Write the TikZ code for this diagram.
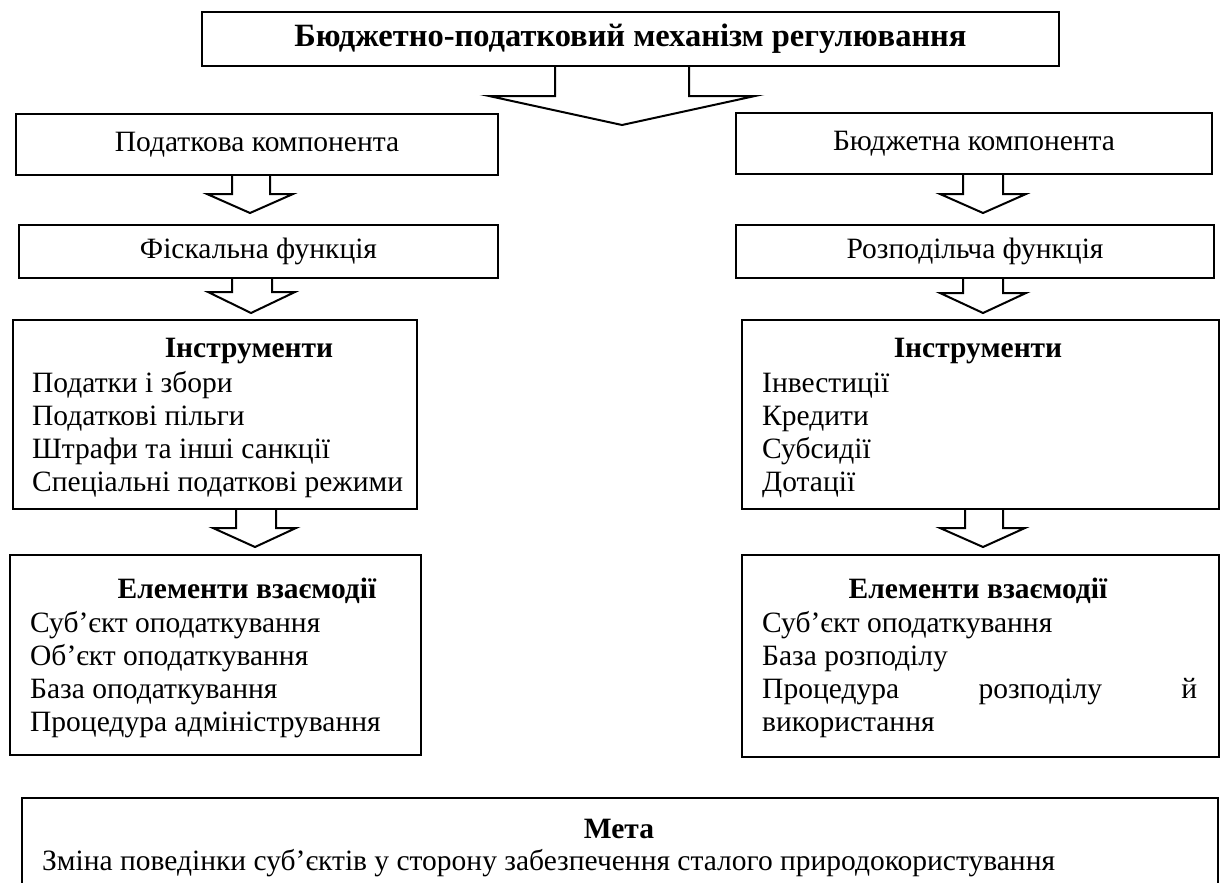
\documentclass[tikz,border=0pt]{standalone}
\usepackage{fontspec}
\setmainfont{Liberation Serif}
\begin{document}
\begin{tikzpicture}[x=1pt,y=-1pt,
  box/.style={draw, line width=2pt, anchor=north west, inner sep=0pt, font=\fontsize{29.5}{33}\selectfont},
  txt/.style={anchor=base west, inner sep=0pt, font=\fontsize{29.5}{33}\selectfont},
  ttl/.style={anchor=base, inner sep=0pt, font=\fontsize{29.5}{33}\selectfont\bfseries},
  barrow/.style={draw, line width=2pt, line join=miter}]
\clip (0,0) rectangle (1221,883);
% boxes
\node[box, minimum width=857pt, minimum height=54pt, font=\fontsize{32.5}{36}\selectfont\bfseries] (top) at (201,11) {Бюджетно-податковий механізм регулювання};
\node[box, minimum width=482pt, minimum height=61pt] (pk) at (15,113) {Податкова компонента};
\node[box, minimum width=476pt, minimum height=61pt] (bk) at (735,112) {Бюджетна компонента};
\node[box, minimum width=479pt, minimum height=53pt] (ff) at (18,224) {Фіскальна функція};
\node[box, minimum width=478pt, minimum height=53pt] (rf) at (735,224) {Розподільча функція};
\node[box, minimum width=404pt, minimum height=189pt] (il) at (12,319) {};
\node[box, minimum width=477pt, minimum height=189pt] (ir) at (741,319) {};
\node[box, minimum width=411pt, minimum height=200pt] (el) at (9,554) {};
\node[box, minimum width=477pt, minimum height=202pt] (er) at (741,554) {};
\node[box, minimum width=1196pt, minimum height=120pt] (meta) at (21,797) {};
% block arrows
\draw[barrow] (555,0 |- top.south) -- (555,96) -- (489,96) -- (622,125) -- (755,96) -- (689,96) -- (689,0 |- top.south);
\draw[barrow] (232,0 |- pk.south) -- (232,194) -- (207,194) -- (250,213) -- (293,194) -- (270,194) -- (270,0 |- pk.south);
\draw[barrow] (963,0 |- bk.south) -- (963,194) -- (940,194) -- (983,213) -- (1026,194) -- (1003,194) -- (1003,0 |- bk.south);
\draw[barrow] (232,0 |- ff.south) -- (232,292) -- (208,292) -- (251,313) -- (295,292) -- (272,292) -- (272,0 |- ff.south);
\draw[barrow] (963,0 |- rf.south) -- (963,293) -- (940,293) -- (983,313) -- (1026,293) -- (1003,293) -- (1003,0 |- rf.south);
\draw[barrow] (236,0 |- il.south) -- (236,528) -- (213,528) -- (255,547) -- (296,528) -- (276,528) -- (276,0 |- il.south);
\draw[barrow] (965,0 |- ir.south) -- (965,528) -- (940,528) -- (983,547) -- (1025,528) -- (1003,528) -- (1003,0 |- ir.south);
% Інструменти (left)
\node[ttl] (ilt) at (249,357) {Інструменти};
\node[txt] (il1) at (32,392) {Податки і збори};
\node[txt] (il2) at (32,425) {Податкові пільги};
\node[txt] (il3) at (32,458) {Штрафи та інші санкції};
\node[txt] (il4) at (32,491) {Спеціальні податкові режими};
% Інструменти (right)
\node[ttl] (irt) at (978,357) {Інструменти};
\node[txt] (ir1) at (762,392) {Інвестиції};
\node[txt] (ir2) at (762,425) {Кредити};
\node[txt] (ir3) at (762,458) {Субсидії};
\node[txt] (ir4) at (762,491) {Дотації};
% Елементи взаємодії (left)
\node[ttl] (elt) at (247,598) {Елементи взаємодії};
\node[txt] (el1) at (30,632) {Суб’єкт оподаткування};
\node[txt] (el2) at (30,665) {Об’єкт оподаткування};
\node[txt] (el3) at (30,698) {База оподаткування};
\node[txt] (el4) at (30,731) {Процедура адміністрування};
% Елементи взаємодії (right)
\node[ttl] (ert) at (978,598) {Елементи взаємодії};
\node[txt] (er1) at (762,632) {Суб’єкт оподаткування};
\node[txt] (er2) at (762,665) {База розподілу};
\node[txt] (er3) at (762,698) {\hbox to 435pt{Процедура\hfill розподілу\hfill й}};
\node[txt] (er4) at (762,731) {використання};
% Мета
\node[ttl] (mt) at (619,838) {Мета};
\node[txt] (m1) at (42,870) {Зміна поведінки суб’єктів у сторону забезпечення сталого природокористування};
\end{tikzpicture}
\end{document}
